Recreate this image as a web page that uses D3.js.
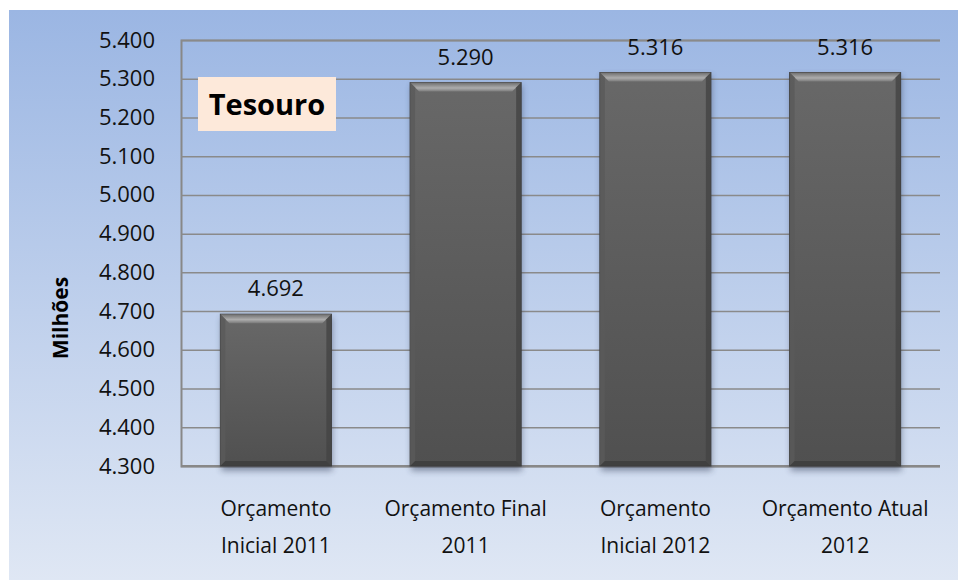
<!DOCTYPE html>
<html>
<head>
<meta charset="utf-8">
<script src="https://cdn.jsdelivr.net/npm/d3@7"></script>
<style>
  body { margin: 0; background: #fff; }
  text { font-family: "Open Sans", "Noto Sans", sans-serif; }
</style>
</head>
<body>
<div id="chart"></div>
<script>
var categories = [
  ['Orçamento', 'Inicial 2011'],
  ['Orçamento Final', '2011'],
  ['Orçamento', 'Inicial 2012'],
  ['Orçamento Atual', '2012']
]
var values = [4.692, 5.290, 5.316, 5.316]
var valueLabels = ['4.692', '5.290', '5.316', '5.316']
var yTicks = [4.3, 4.4, 4.5, 4.6, 4.7, 4.8, 4.9, 5.0, 5.1, 5.2, 5.3, 5.4]

var width = 958
var height = 580
var margin = { top: 40, right: 18, bottom: 114, left: 181 }

var fmt = d3.format('.3f')

var svg = d3.select('#chart').append('svg')
  .attr('width', width)
  .attr('height', height)

var defs = svg.append('defs')
var bg = defs.append('linearGradient').attr('id', 'bg')
  .attr('x1', 0).attr('y1', 0).attr('x2', 0).attr('y2', 1)
bg.append('stop').attr('offset', '0%').attr('stop-color', '#9bb6e3')
bg.append('stop').attr('offset', '100%').attr('stop-color', '#dfe7f4')

var barGrad = defs.append('linearGradient').attr('id', 'bar')
  .attr('x1', 0).attr('y1', 0).attr('x2', 0).attr('y2', 1)
barGrad.append('stop').attr('offset', '0%').attr('stop-color', '#686868')
barGrad.append('stop').attr('offset', '100%').attr('stop-color', '#505050')

var bevel = defs.append('linearGradient').attr('id', 'bevel')
  .attr('x1', 0).attr('y1', 0).attr('x2', 0).attr('y2', 1)
bevel.append('stop').attr('offset', '0%').attr('stop-color', '#6e6e6e')
bevel.append('stop').attr('offset', '60%').attr('stop-color', '#adadad')
bevel.append('stop').attr('offset', '100%').attr('stop-color', '#7a7a7a')

defs.append('filter').attr('id', 'shadow')
  .attr('x', '-20%').attr('y', '-20%').attr('width', '140%').attr('height', '140%')
  .append('feGaussianBlur').attr('stdDeviation', 3)

svg.append('rect')
  .attr('x', 9).attr('y', 10)
  .attr('width', width - 9).attr('height', height - 10)
  .attr('fill', 'url(#bg)')

var x = d3.scaleBand()
  .domain(d3.range(categories.length))
  .range([margin.left, width - margin.right])
  .paddingInner(0.415)
  .paddingOuter(0.2075)

var y = d3.scaleLinear()
  .domain([4.3, 5.4])
  .range([height - margin.bottom, margin.top])

// gridlines + tick labels
var yAxis = d3.axisLeft(y)
  .tickValues(yTicks)
  .tickFormat(fmt)
  .tickSize(-(width - margin.left - margin.right))
  .tickPadding(26)

var gy = svg.append('g')
  .attr('transform', 'translate(' + margin.left + ',0)')
  .call(yAxis)
gy.select('.domain').attr('stroke', '#888').attr('stroke-width', 2)
gy.selectAll('.tick line').attr('stroke', '#8a8a8a').attr('stroke-width', 1.5)
gy.selectAll('.tick text')
  .attr('fill', '#111')
  .style('font-size', '22px')

svg.append('line')
  .attr('x1', margin.left).attr('x2', width - margin.right)
  .attr('y1', y(4.3)).attr('y2', y(4.3))
  .attr('stroke', '#888').attr('stroke-width', 2)

// bars
var bars = svg.append('g').selectAll('g.bar')
  .data(values)
  .join('g').attr('class', 'bar')

bars.append('rect')
  .attr('x', function (d, i) { return x(i) + 1 })
  .attr('y', function (d) { return y(d) + 3 })
  .attr('width', x.bandwidth())
  .attr('height', function (d) { return y(4.3) - y(d) + 2 })
  .attr('fill', '#2a3550')
  .attr('opacity', 0.45)
  .attr('filter', 'url(#shadow)')

bars.append('rect')
  .attr('x', function (d, i) { return x(i) })
  .attr('y', function (d) { return y(d) })
  .attr('width', x.bandwidth())
  .attr('height', function (d) { return y(4.3) - y(d) })
  .attr('fill', 'url(#bar)')
  .attr('stroke', '#3e3e3e')
  .attr('stroke-width', 1)

var bv = 9
bars.append('path')
  .attr('d', function (d, i) {
    var x0 = x(i), x1 = x(i) + x.bandwidth(), t = y(d)
    return 'M' + x0 + ',' + t + 'L' + x1 + ',' + t + 'L' + (x1 - bv) + ',' + (t + bv) + 'L' + (x0 + bv) + ',' + (t + bv) + 'Z'
  })
  .attr('fill', 'url(#bevel)')
bars.append('path')
  .attr('d', function (d, i) {
    var x0 = x(i), t = y(d), b = y(4.3)
    return 'M' + x0 + ',' + t + 'L' + (x0 + 5) + ',' + (t + 5) + 'L' + (x0 + 5) + ',' + (b - 5) + 'L' + x0 + ',' + b + 'Z'
  })
  .attr('fill', '#5a5a5a').attr('opacity', 0.8)
bars.append('path')
  .attr('d', function (d, i) {
    var x1 = x(i) + x.bandwidth(), t = y(d), b = y(4.3)
    return 'M' + x1 + ',' + t + 'L' + (x1 - 5) + ',' + (t + 5) + 'L' + (x1 - 5) + ',' + (b - 5) + 'L' + x1 + ',' + b + 'Z'
  })
  .attr('fill', '#444').attr('opacity', 0.8)
bars.append('path')
  .attr('d', function (d, i) {
    var x0 = x(i), x1 = x(i) + x.bandwidth(), b = y(4.3)
    return 'M' + x0 + ',' + b + 'L' + (x0 + 5) + ',' + (b - 5) + 'L' + (x1 - 5) + ',' + (b - 5) + 'L' + x1 + ',' + b + 'Z'
  })
  .attr('fill', '#3c3c3c').attr('opacity', 0.8)

bars.append('text')
  .attr('x', function (d, i) { return x(i) + x.bandwidth() / 2 })
  .attr('y', function (d) { return y(d) - 18 })
  .attr('text-anchor', 'middle')
  .attr('fill', '#111')
  .style('font-size', '22px')
  .text(function (d, i) { return valueLabels[i] })

// category labels
var cat = svg.append('g').selectAll('text')
  .data(categories)
  .join('text')
  .attr('x', function (d, i) { return x(i) + x.bandwidth() / 2 })
  .attr('y', 516)
  .attr('text-anchor', 'middle')
  .attr('fill', '#111')
  .style('font-size', '21px')
cat.selectAll('tspan')
  .data(function (d) { return d })
  .join('tspan')
  .attr('x', function () { return d3.select(this.parentNode).attr('x') })
  .attr('dy', function (d, j) { return j === 0 ? 0 : 37 })
  .text(function (d) { return d })

// axis title
svg.append('text')
  .attr('transform', 'translate(68,318) rotate(-90)')
  .attr('text-anchor', 'middle')
  .attr('fill', '#000')
  .style('font-size', '21px')
  .style('font-weight', 'bold')
  .text('Milhões')

// Tesouro box
svg.append('rect')
  .attr('x', 198).attr('y', 77)
  .attr('width', 138).attr('height', 54)
  .attr('fill', '#fde9da')
svg.append('text')
  .attr('x', 267).attr('y', 115)
  .attr('text-anchor', 'middle')
  .attr('fill', '#000')
  .style('font-size', '29px')
  .style('font-weight', 'bold')
  .text('Tesouro')
</script>
</body>
</html>
